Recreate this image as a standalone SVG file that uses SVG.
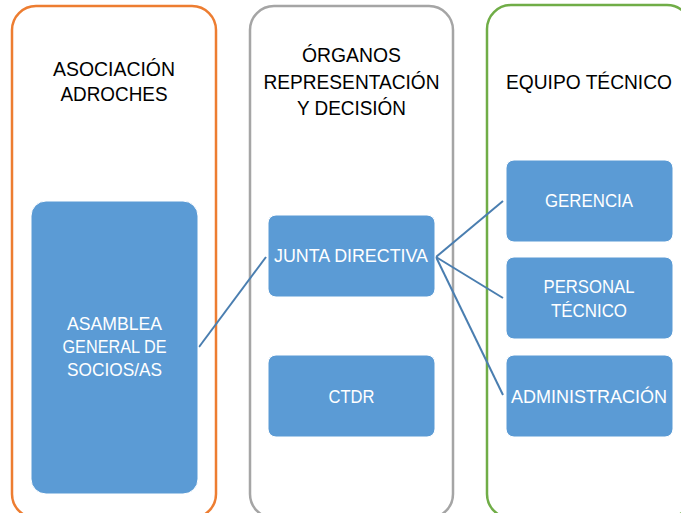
<svg xmlns="http://www.w3.org/2000/svg" width="681" height="513" viewBox="0 0 681 513">
<style>
.cont{fill:#FFFFFF;stroke-width:2.5}
.node{fill:#5B9BD5;stroke:#FFFFFF;stroke-width:1}
.hd{font-family:"Liberation Sans",Arial,sans-serif;font-size:20px;fill:#000000;text-anchor:middle}
.nt{font-family:"Liberation Sans",Arial,sans-serif;font-size:18px;fill:#FFFFFF;text-anchor:middle}
.conn{stroke:#4A7EB0;stroke-width:2;fill:none}
</style>
<rect width="681" height="513" fill="#FFFFFF"/>
<g id="col-asociacion">
<rect class="cont" x="12" y="6" width="204" height="512" rx="24" stroke="#ED7D31"/>
<text class="hd" x="114" y="76" textLength="122" lengthAdjust="spacingAndGlyphs">ASOCIACIÓN</text>
<text class="hd" x="114" y="101" textLength="107" lengthAdjust="spacingAndGlyphs">ADROCHES</text>
</g>
<g id="col-organos">
<rect class="cont" x="250" y="6" width="203" height="512" rx="24" stroke="#A5A5A5"/>
<text class="hd" x="351.5" y="62" textLength="99" lengthAdjust="spacingAndGlyphs">ÓRGANOS</text>
<text class="hd" x="351.5" y="89" textLength="176" lengthAdjust="spacingAndGlyphs">REPRESENTACIÓN</text>
<text class="hd" x="351.5" y="115" textLength="109" lengthAdjust="spacingAndGlyphs">Y DECISIÓN</text>
</g>
<g id="col-equipo">
<rect class="cont" x="487" y="5" width="204" height="513" rx="24" stroke="#70AD47"/>
<text class="hd" x="589" y="89" textLength="166" lengthAdjust="spacingAndGlyphs">EQUIPO TÉCNICO</text>
</g>
<g id="connectors">
<line class="conn" x1="199" y1="347" x2="266" y2="257"/>
<line class="conn" x1="436" y1="257" x2="503" y2="201"/>
<line class="conn" x1="436" y1="257" x2="503" y2="298"/>
<line class="conn" x1="436" y1="257" x2="503" y2="395"/>
</g>
<g id="node-asamblea">
<rect class="node" x="31" y="201" width="167" height="293" rx="15"/>
<text class="nt" x="114.5" y="330" textLength="95" lengthAdjust="spacingAndGlyphs">ASAMBLEA</text>
<text class="nt" x="114.5" y="353" textLength="104" lengthAdjust="spacingAndGlyphs">GENERAL DE</text>
<text class="nt" x="114.5" y="376" textLength="95" lengthAdjust="spacingAndGlyphs">SOCIOS/AS</text>
</g>
<g id="node-junta">
<rect class="node" x="268" y="215" width="167" height="82" rx="8"/>
<text class="nt" x="351" y="262" textLength="154" lengthAdjust="spacingAndGlyphs">JUNTA DIRECTIVA</text>
</g>
<g id="node-ctdr">
<rect class="node" x="268" y="355" width="167" height="82" rx="8"/>
<text class="nt" x="351.5" y="403" textLength="46" lengthAdjust="spacingAndGlyphs">CTDR</text>
</g>
<g id="node-gerencia">
<rect class="node" x="506" y="160" width="167" height="82" rx="8"/>
<text class="nt" x="589" y="207" textLength="88" lengthAdjust="spacingAndGlyphs">GERENCIA</text>
</g>
<g id="node-personal">
<rect class="node" x="506" y="257" width="167" height="82" rx="8"/>
<text class="nt" x="589" y="293" textLength="91" lengthAdjust="spacingAndGlyphs">PERSONAL</text>
<text class="nt" x="589" y="317" textLength="76" lengthAdjust="spacingAndGlyphs">TÉCNICO</text>
</g>
<g id="node-administracion">
<rect class="node" x="506" y="355" width="167" height="82" rx="8"/>
<text class="nt" x="589" y="403" textLength="156" lengthAdjust="spacingAndGlyphs">ADMINISTRACIÓN</text>
</g>
</svg>
